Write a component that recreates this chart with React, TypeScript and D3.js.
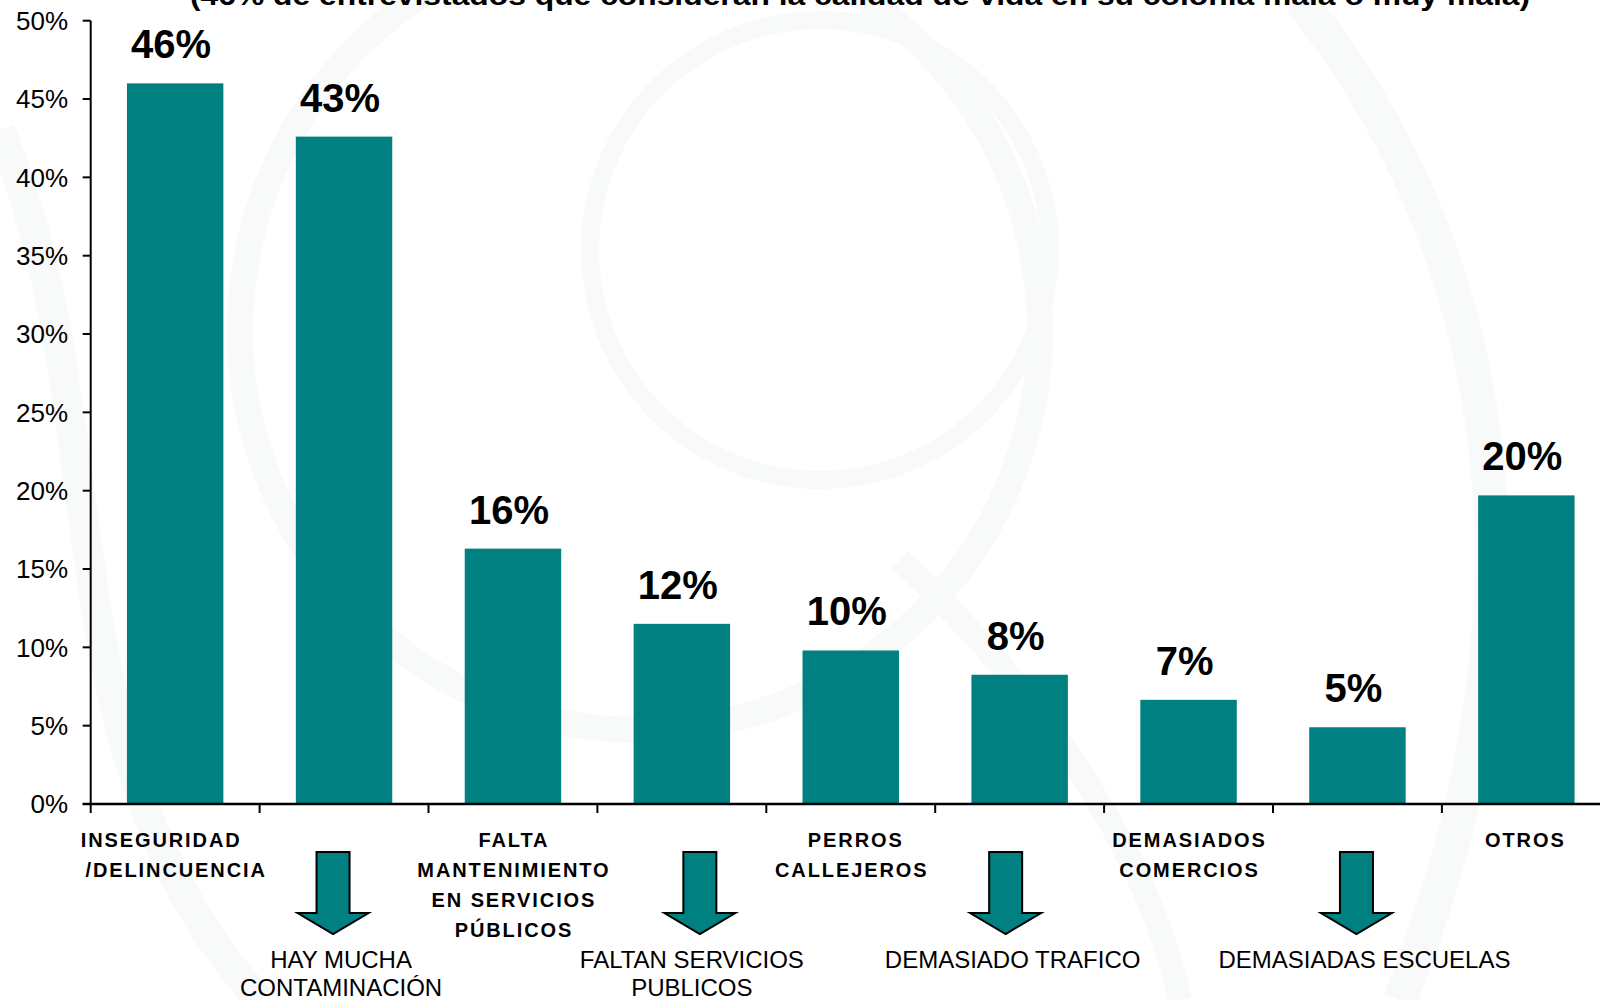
import React from "react";
import * as d3 from "d3";

// ---------- data ----------
const categories = [
  "INSEGURIDAD /DELINCUENCIA",
  "HAY MUCHA CONTAMINACIÓN",
  "FALTA MANTENIMIENTO EN SERVICIOS PÚBLICOS",
  "FALTAN SERVICIOS PUBLICOS",
  "PERROS CALLEJEROS",
  "DEMASIADO TRAFICO",
  "DEMASIADOS COMERCIOS",
  "DEMASIADAS ESCUELAS",
  "OTROS",
];
const values = [46.0, 42.6, 16.3, 11.5, 9.8, 8.25, 6.65, 4.9, 19.7];
const valueLabels = ["46%", "43%", "16%", "12%", "10%", "8%", "7%", "5%", "20%"];
const categoryLines: (string[] | null)[] = [
  ["INSEGURIDAD", "/DELINCUENCIA"],
  null,
  ["FALTA", "MANTENIMIENTO", "EN SERVICIOS", "PÚBLICOS"],
  null,
  ["PERROS", "CALLEJEROS"],
  null,
  ["DEMASIADOS", "COMERCIOS"],
  null,
  ["OTROS"],
];
const arrowLines: (string[] | null)[] = [
  null,
  ["HAY MUCHA", "CONTAMINACIÓN"],
  null,
  ["FALTAN SERVICIOS", "PUBLICOS"],
  null,
  ["DEMASIADO TRAFICO"],
  null,
  ["DEMASIADAS ESCUELAS"],
  null,
];
const yTickValues = [0, 5, 10, 15, 20, 25, 30, 35, 40, 45, 50];
const title =
  "(46% de entrevistados que consideran la calidad de vida en su colonia mala o muy mala)";

// ---------- layout ----------
const W = 1600;
const H = 1000;
const X0 = 90.7;
const STEP = 168.9;
const Y0 = 804;
const YTOP = 20.7;
const arrowShift = [0, -11, 0, 18, 0, -14, 0, -1, 0];
const arrowTextShift = [0, -3, 0, 10, 0, -7, 0, 7, 0];
const firstLineShift = [-15, 0, 0, 0, 4, 0, 0, 0, -2];
const TEAL = "#008080";
const FONT = "'Liberation Sans', Arial, Helvetica, sans-serif";

export default function App() {
  const x = d3
    .scaleBand<string>()
    .domain(categories)
    .range([X0, X0 + STEP * categories.length])
    .paddingInner(0.429)
    .paddingOuter(0.2145);
  const y = d3.scaleLinear().domain([0, 50]).range([Y0, YTOP]);
  const step = x.step();
  const bandStart = (c: string) => (x(c) as number) - (step - x.bandwidth()) / 2;
  const bandCenter = (c: string) => (x(c) as number) + x.bandwidth() / 2;

  const arrowPath = (cx: number) => {
    const sw = 16.5, hw = 35.5, top = 852, headTop = 913, tip = 934;
    const p = d3.path();
    p.moveTo(cx - sw, top);
    p.lineTo(cx + sw, top);
    p.lineTo(cx + sw, headTop);
    p.lineTo(cx + hw, headTop);
    p.lineTo(cx, tip);
    p.lineTo(cx - hw, headTop);
    p.lineTo(cx - sw, headTop);
    p.closePath();
    return p.toString();
  };

  return (
    <div style={{ position: "fixed", left: 0, top: 0, width: W, height: H, background: "#fff" }}>
      <svg width={W} height={H} style={{ display: "block" }}>
        <rect width={W} height={H} fill="#ffffff" />
        {/* faint watermark swirls */}
        <g fill="none" stroke="#f8f9f9">
          <circle cx={640} cy={330} r={400} strokeWidth={26} />
          <circle cx={820} cy={250} r={230} strokeWidth={18} />
          <path d="M0,130 C120,420 40,760 260,1000" strokeWidth={30} />
          <path d="M1300,0 C1500,250 1560,600 1400,1000" strokeWidth={34} />
          <path d="M900,560 C1050,700 1150,860 1180,1000" strokeWidth={24} />
        </g>

        {/* title (partially cut off at the top, as in the source) */}
        <text
          x={860}
          y={5}
          textAnchor="middle"
          fontFamily={FONT}
          fontWeight="bold"
          fontSize={27}
          textLength={1340}
          lengthAdjust="spacingAndGlyphs"
          fill="#000"
        >
          {title}
        </text>

        {/* bars */}
        {categories.map((c, i) => (
          <rect
            key={c}
            x={x(c)}
            y={y(values[i])}
            width={x.bandwidth()}
            height={Y0 - y(values[i])}
            fill={TEAL}
          />
        ))}

        {/* value labels */}
        {categories.map((c, i) => (
          <text
            key={"v" + c}
            x={bandCenter(c) - 4}
            y={y(values[i]) - 25}
            textAnchor="middle"
            fontFamily={FONT}
            fontWeight="bold"
            fontSize={40}
            fill="#000"
          >
            {valueLabels[i]}
          </text>
        ))}

        {/* y axis */}
        <line x1={X0} x2={X0} y1={YTOP} y2={Y0} stroke="#000" strokeWidth={2} />
        {yTickValues.map((v) => (
          <g key={"yt" + v}>
            <line x1={X0 - 8} x2={X0} y1={y(v)} y2={y(v)} stroke="#000" strokeWidth={2} />
            <text
              x={68}
              y={y(v)}
              dy="0.36em"
              textAnchor="end"
              fontFamily={FONT}
              fontSize={26}
              fill="#000"
            >
              {v}%
            </text>
          </g>
        ))}

        {/* x axis */}
        <line x1={X0 - 8} x2={W} y1={Y0} y2={Y0} stroke="#000" strokeWidth={2.5} />
        {categories.map((c) => (
          <line
            key={"xt" + c}
            x1={bandStart(c)}
            x2={bandStart(c)}
            y1={Y0}
            y2={Y0 + 9}
            stroke="#000"
            strokeWidth={2}
          />
        ))}

        {/* category labels */}
        {categories.map((c, i) =>
          categoryLines[i] ? (
            <text
              key={"cl" + c}
              textAnchor="middle"
              fontFamily={FONT}
              fontWeight="bold"
              fontSize={20}
              letterSpacing={1.9}
              fill="#000"
            >
              {categoryLines[i]!.map((ln, j) => (
                <tspan
                  key={j}
                  x={bandCenter(c) + 1 + (j === 0 ? firstLineShift[i] : 0)}
                  y={847 + j * 30}
                >
                  {ln}
                </tspan>
              ))}
            </text>
          ) : null
        )}

        {/* arrows with annotations */}
        {categories.map((c, i) =>
          arrowLines[i] ? (
            <g key={"ar" + c}>
              <path
                d={arrowPath(bandCenter(c) + arrowShift[i])}
                fill={TEAL}
                stroke="#000"
                strokeWidth={2}
                strokeLinejoin="miter"
              />
              <text textAnchor="middle" fontFamily={FONT} fontSize={24} fill="#000">
                {arrowLines[i]!.map((ln, j) => (
                  <tspan key={j} x={bandCenter(c) + arrowTextShift[i]} y={968 + j * 27.5}>
                    {ln}
                  </tspan>
                ))}
              </text>
            </g>
          ) : null
        )}
      </svg>
    </div>
  );
}
